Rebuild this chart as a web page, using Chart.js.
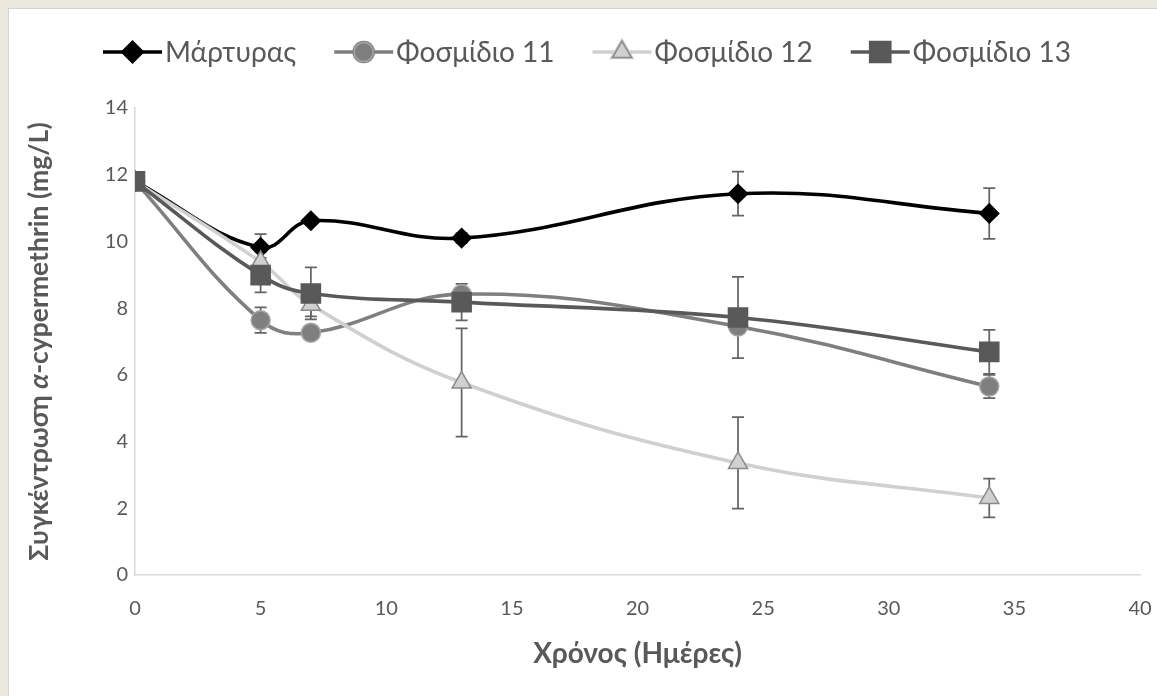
<!DOCTYPE html>
<html>
<head>
<meta charset="utf-8">
<script src="https://cdn.jsdelivr.net/npm/chart.js@4.4.1/dist/chart.umd.min.js"></script>
<style>
  html, body { margin: 0; padding: 0; background: #ebe9de; }
  #frame {
    position: absolute; left: 8px; top: 8px;
    width: 1148px; height: 687px; background: #fff;
    border-left: 1px solid #d4d4d4; border-top: 1px solid #d4d4d4;
  }
  canvas { display: block; }
</style>
</head>
<body>
<div id="frame"><canvas id="chart" width="1148" height="687" style="width:1148px;height:687px"></canvas></div>
<script>
const FONT = "Lato, 'Noto Sans', sans-serif";

// days of sampling
const days = [0, 5, 7, 13, 24, 34];
const seriesNames = ['Μάρτυρας', 'Φοσμίδιο 11', 'Φοσμίδιο 12', 'Φοσμίδιο 13'];

// concentration (mg/L) and error (±)
const control = [11.8, 9.82, 10.62, 10.1, 11.43, 10.84];
const fos11 = [11.8, 7.64, 7.26, 8.42, 7.45, 5.65];
const fos12 = [11.8, 9.38, 8.1, 5.77, 3.36, 2.31];
const fos13 = [11.8, 8.99, 8.44, 8.18, 7.72, 6.69];

const controlErr = [0, 0.4, 0.1, 0.15, 0.66, 0.76];
const fos11Err = [0, 0.38, 0.1, 0.1, 0.2, 0.35];
const fos12Err = [0, 0.3, 0.35, 1.62, 1.37, 0.58];
const fos13Err = [0, 0.52, 0.78, 0.55, 1.22, 0.66];

const xTicks = [0, 5, 10, 15, 20, 25, 30, 35, 40];
const yTicks = [0, 2, 4, 6, 8, 10, 12, 14];

const toPoints = vals => vals.map((v, i) => ({ x: days[i], y: v }));

const styles = [
  { color: '#000000', fill: '#000000', edge: '#000000', shape: 'rectRot', r: 9.5 },
  { color: '#7f7f7f', fill: '#7f7f7f', edge: '#a6a6a6', shape: 'circle', r: 9.5 },
  { color: '#d0d0d0', fill: '#d0d0d0', edge: '#8a8a8a', shape: 'triangle', r: 11 },
  { color: '#595959', fill: '#595959', edge: '#595959', shape: 'rect', r: 13.5 },
];
const values = [control, fos11, fos12, fos13];
const errors = [controlErr, fos11Err, fos12Err, fos13Err];

const datasets = seriesNames.map((name, i) => ({
  label: name,
  data: toPoints(values[i]),
  errors: errors[i],
  showLine: true,
  borderColor: styles[i].color,
  borderWidth: 3.6,
  tension: 0.4,
  pointStyle: styles[i].shape,
  pointRadius: styles[i].r,
  pointHoverRadius: styles[i].r,
  pointBackgroundColor: styles[i].fill,
  pointBorderColor: styles[i].edge,
  pointBorderWidth: 1.5,
  order: 4 - i,
}));

const errorBars = {
  id: 'errorBars',
  beforeDatasetsDraw(chart) {
    const { ctx, scales: { x, y } } = chart;
    ctx.save();
    ctx.strokeStyle = '#656565';
    ctx.lineWidth = 1.75;
    chart.data.datasets.forEach(ds => {
      ds.data.forEach((p, i) => {
        const e = ds.errors[i];
        if (!e) return;
        const px = x.getPixelForValue(p.x);
        const top = y.getPixelForValue(p.y + e);
        const bot = y.getPixelForValue(p.y - e);
        ctx.beginPath();
        ctx.moveTo(px, top); ctx.lineTo(px, bot);
        ctx.moveTo(px - 6, top); ctx.lineTo(px + 6, top);
        ctx.moveTo(px - 6, bot); ctx.lineTo(px + 6, bot);
        ctx.stroke();
      });
    });
    ctx.restore();
  },
};

// legend with line + marker, like the spreadsheet one
const lineLegend = {
  id: 'lineLegend',
  afterDraw(chart) {
    const { ctx } = chart;
    const lineLen = 59, textGap = 3, itemGap = 38, cy = 43;
    ctx.save();
    ctx.font = '28px ' + FONT;
    ctx.textBaseline = 'middle';
    const widths = chart.data.datasets.map(ds => ctx.measureText(ds.label).width);
    const total = widths.reduce((a, w) => a + lineLen + textGap + w, 0) + itemGap * (widths.length - 1);
    let x = chart.width / 2 - total / 2 + 4;
    chart.data.datasets.forEach((ds, i) => {
      ctx.strokeStyle = ds.borderColor;
      ctx.lineWidth = 3.6;
      ctx.beginPath();
      ctx.moveTo(x, cy); ctx.lineTo(x + lineLen, cy);
      ctx.stroke();
      Chart.helpers.drawPoint(ctx, {
        pointStyle: ds.pointStyle, radius: ds.pointRadius, borderWidth: ds.pointBorderWidth,
      }, x + lineLen / 2, cy);
      ctx.fillStyle = ds.pointBackgroundColor;
      ctx.strokeStyle = ds.pointBorderColor;
      ctx.lineWidth = ds.pointBorderWidth;
      ctx.fill();
      ctx.stroke();
      ctx.fillStyle = '#595959';
      ctx.fillText(ds.label, x + lineLen + textGap, cy + 1);
      x += lineLen + textGap + widths[i] + itemGap;
    });
    ctx.restore();
  },
};

// rotated y title with italic alpha
const yTitle = {
  id: 'yTitle',
  afterDraw(chart) {
    const { ctx, chartArea } = chart;
    const parts = [
      ['bold', 'Συγκέντρωση '],
      ['italic bold', 'α'],
      ['bold', '-cypermethrin (mg/L)'],
    ];
    ctx.save();
    ctx.translate(30, (chartArea.top + chartArea.bottom) / 2);
    ctx.rotate(-Math.PI / 2);
    ctx.fillStyle = '#595959';
    ctx.textBaseline = 'middle';
    const widths = parts.map(([st, t]) => { ctx.font = st + ' 26.5px ' + FONT; return ctx.measureText(t).width; });
    let x = -widths.reduce((a, b) => a + b, 0) / 2;
    parts.forEach(([st, t], i) => {
      ctx.font = st + ' 26.5px ' + FONT;
      ctx.fillText(t, x, 0);
      x += widths[i];
    });
    ctx.restore();
  },
};

new Chart(document.getElementById('chart'), {
  type: 'scatter',
  data: { datasets },
  options: {
    responsive: false,
    animation: false,
    layout: { padding: { top: 99, right: 17, bottom: 21, left: 0 } },
    plugins: {
      legend: { display: false },
      tooltip: { enabled: false },
    },
    scales: {
      x: {
        min: 0, max: 40,
        afterBuildTicks: s => { s.ticks = xTicks.map(v => ({ value: v })); },
        afterFit: s => { s.height = 100; s.paddingRight = 0; s.paddingLeft = 0; },
        grid: { display: false, drawTicks: false },
        border: { display: true, color: '#d9d9d9', width: 1.5 },
        ticks: { color: '#595959', font: { family: FONT, size: 20 }, padding: 22 },
        title: {
          display: true, text: 'Χρόνος (Ημέρες)', color: '#595959',
          font: { family: FONT, size: 28, weight: 'bold' },
        },
      },
      y: {
        min: 0, max: 14,
        afterBuildTicks: s => { s.ticks = yTicks.map(v => ({ value: v })); },
        afterFit: s => { s.width = 126; },
        grid: { display: false, drawTicks: false },
        border: { display: true, color: '#d9d9d9', width: 1.5 },
        ticks: { color: '#595959', font: { family: FONT, size: 20 }, padding: 7 },
      },
    },
  },
  plugins: [errorBars, lineLegend, yTitle],
});
</script>
</body>
</html>
